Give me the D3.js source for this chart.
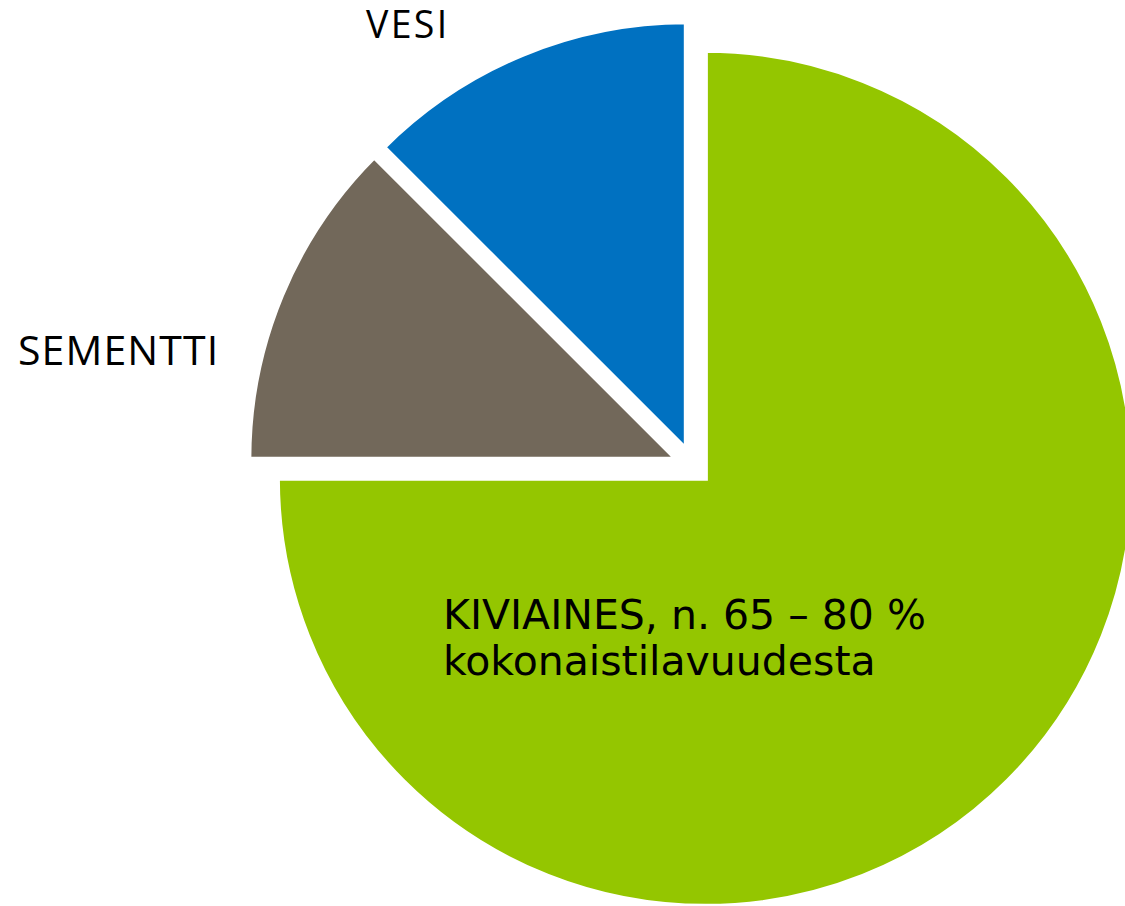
<!DOCTYPE html>
<html>
<head>
<meta charset="utf-8">
<script src="https://cdn.jsdelivr.net/npm/d3@7"></script>
<style>
  html, body { margin: 0; padding: 0; background: #ffffff; }
  svg { display: block; }
</style>
</head>
<body>
<svg id="chart" width="1125" height="906"></svg>
<script>
// Data
const categories = ["KIVIAINES", "SEMENTTI", "VESI"];
const values = [75, 12.5, 12.5];
const colors = ["#94C600", "#72685A", "#0071C1"];
const labelLines = [
  ["KIVIAINES, n. 65 – 80 %", "kokonaistilavuudesta"],
  ["SEMENTTI"],
  ["VESI"]
];

const W = 1125, H = 906;
const cx = 693, cy = 466;
const R = 428;
const explode = 17.5;

const svg = d3.select("#chart");

const pie = d3.pie().sort(null).value(d => d.value).startAngle(0).endAngle(2 * Math.PI);
const data = pie(categories.map((c, i) => ({ name: c, value: values[i], color: colors[i], lines: labelLines[i] })));

const arc = d3.arc().innerRadius(0).outerRadius(R);

const g = svg.append("g").attr("transform", `translate(${cx},${cy})`);

g.selectAll("path.slice")
  .data(data)
  .enter()
  .append("path")
  .attr("class", "slice")
  .attr("d", arc)
  .attr("fill", d => d.data.color)
  .attr("stroke", "#ffffff")
  .attr("stroke-width", 5)
  .attr("stroke-linejoin", "miter")
  .attr("transform", d => {
    const a = (d.startAngle + d.endAngle) / 2;
    return `translate(${explode * Math.sin(a)},${-explode * Math.cos(a)})`;
  });

// Labels (positions relative to the pie centre)
const labelPos = [
  { x: -250, y: 163, font: "DejaVu Sans", size: 41, lh: 46, ls: 0 },
  { x: -675, y: -101, font: "Open Sans", size: 41, lh: 0, ls: 1.1 },
  { x: -327, y: -428, font: "Open Sans", size: 37.5, lh: 0, ls: 2.3 }
];

data.forEach((d, i) => {
  const p = labelPos[i];
  const t = g.append("text")
    .attr("x", p.x)
    .attr("y", p.y)
    .attr("font-family", p.font)
    .attr("font-size", p.size)
    .attr("letter-spacing", p.ls)
    .attr("fill", "#000000");
  d.data.lines.forEach((line, j) => {
    t.append("tspan").attr("x", p.x).attr("y", p.y + j * p.lh).text(line);
  });
});
</script>
</body>
</html>
